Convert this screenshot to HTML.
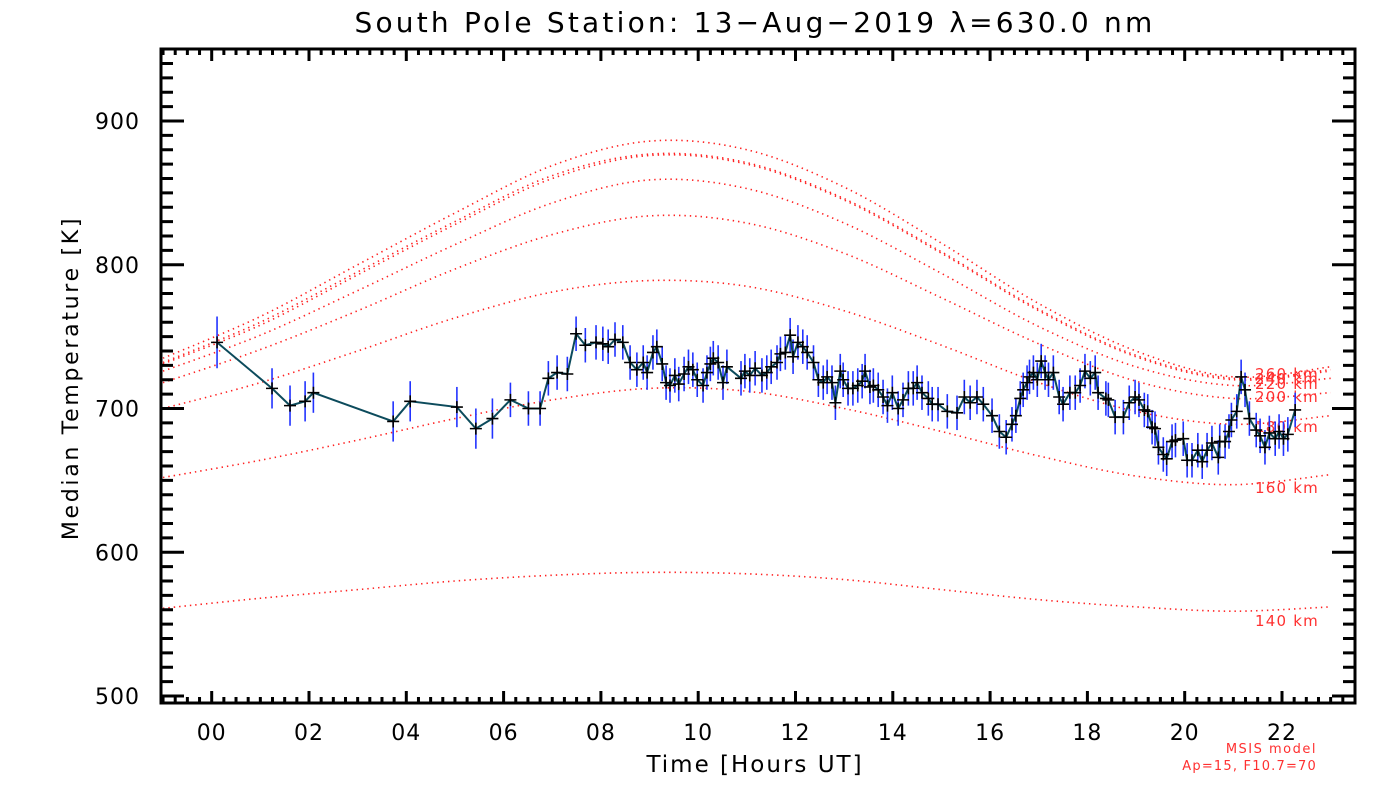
<!DOCTYPE html>
<html><head><meta charset="utf-8"><style>
html,body{margin:0;padding:0;background:#fff;}
svg{display:block;font-family:"DejaVu Sans","Liberation Sans",sans-serif;}
</style></head><body>
<svg id="chart" width="1400" height="800" viewBox="0 0 1400 800">
<text x="755" y="32" font-size="28" letter-spacing="3.2" text-anchor="middle">South Pole Station: 13−Aug−2019 λ=630.0 nm</text>
<text x="78" y="378" font-size="22" letter-spacing="2.7" text-anchor="middle" transform="rotate(-90 78 378)">Median Temperature [K]</text>
<text x="755" y="772" font-size="23" letter-spacing="2" text-anchor="middle">Time [Hours UT]</text>
<text x="1317" y="753" font-size="13" letter-spacing="1.5" fill="#ff3030" text-anchor="end">MSIS model</text>
<text x="1317" y="770" font-size="13" letter-spacing="1.2" fill="#ff3030" text-anchor="end">Ap=15, F10.7=70</text>
<g id="curves"></g><g id="data"></g><g id="axes"></g>
</svg>
<script>
const hours=[0.11,1.24,1.61,1.92,2.09,3.73,4.08,5.04,5.43,5.77,6.14,6.51,6.75,6.92,7.1,7.31,7.49,7.68,7.9,8.04,8.15,8.29,8.45,8.6,8.74,8.87,8.95,9.07,9.15,9.26,9.34,9.42,9.52,9.6,9.71,9.8,9.89,9.98,10.1,10.18,10.25,10.31,10.41,10.51,10.59,10.88,10.96,11.06,11.17,11.31,11.41,11.5,11.62,11.69,11.79,11.89,11.95,12.05,12.15,12.24,12.37,12.47,12.57,12.65,12.75,12.82,12.92,12.98,13.08,13.18,13.28,13.37,13.43,13.53,13.6,13.7,13.8,13.89,13.99,14.11,14.21,14.32,14.42,14.5,14.6,14.73,14.81,14.93,15.12,15.32,15.47,15.59,15.73,15.86,16.04,16.19,16.33,16.45,16.53,16.62,16.68,16.76,16.81,16.89,16.97,17.05,17.13,17.2,17.3,17.42,17.5,17.64,17.75,17.85,17.95,18.06,18.16,18.22,18.38,18.43,18.57,18.74,18.86,18.98,19.06,19.17,19.24,19.33,19.39,19.46,19.56,19.63,19.74,19.81,19.97,20.05,20.15,20.27,20.36,20.46,20.56,20.69,20.72,20.83,20.91,20.96,21.07,21.16,21.24,21.33,21.47,21.55,21.65,21.74,21.86,21.94,22.03,22.12,22.27];
const temps=[746,714,702,705,711,691,705,701,686,693,706,700,700,721,725,724,752,744,746,745,743,748,746,732,727,732,725,739,743,731,718,716,723,717,724,729,727,720,716,725,731,735,732,718,729,721,726,723,728,723,725,729,732,738,739,751,736,746,743,739,732,720,718,722,718,704,726,720,714,714,716,719,726,715,716,713,708,702,711,700,706,714,714,718,711,707,703,703,698,697,708,704,708,703,695,684,680,689,695,707,713,718,722,725,720,733,725,720,725,708,703,711,711,716,726,721,725,711,707,706,694,694,704,708,706,699,698,687,686,673,668,665,677,678,679,664,664,671,663,671,676,666,677,677,684,692,698,722,713,693,685,681,673,683,679,684,679,682,699];
const errs=[18,14,14,14,14,14,14,14,14,14,12,12,12,12,12,12,12,12,12,12,12,12,12,12,12,12,12,12,12,12,12,12,12,12,12,12,12,12,12,12,12,12,12,12,12,12,12,12,12,12,12,12,12,12,12,12,12,12,12,12,12,12,12,12,12,12,12,12,12,12,12,12,12,12,12,12,12,12,12,12,12,12,12,12,12,12,12,12,12,12,12,12,12,12,12,12,12,12,12,12,12,12,12,12,12,12,12,12,12,12,12,12,12,12,12,12,12,12,12,12,12,12,12,12,12,12,12,12,12,12,12,12,12,12,12,12,12,12,12,12,12,12,12,12,12,12,12,12,12,12,12,12,12,12,12,12,12,12,12];
const modelHours=[-1,1,3,5,7,9,11,13,15,17,19,21,23];
const alt140=[561,568,574,580,584,586,585,581,574,567,562,559,562];
const alt160=[652,664,678,693,706,714,712,700,684,667,653,647,654];
const alt180=[700,718,740,763,781,789,785,768,744,718,698,689,695];
const alt200=[718,741,768,797,821,834,829,808,777,745,719,707,711];
const alt220=[726,751,782,814,843,859,853,829,794,757,729,716,721];
const alt240=[731,758,793,828,860,876,870,845,808,768,736,720,726];
const alt250=[732,760,795,830,862,877,871,846,809,769,737,721,727];
const alt260=[735,764,800,836,869,886,880,854,815,773,740,722,729];
const altNames=["140 km","160 km","180 km","200 km","220 km","240 km","250 km","260 km"];
const altLabelY=[620,487,426,396,383,378,375,373];
const xTicks=["00","02","04","06","08","10","12","14","16","18","20","22"];
const yTicks=[500,600,700,800,900];

const L=161,R=1355,T=49,B=703;
const xs=h=>211.7+(h)*48.65;
const ys=v=>121+(900-v)*1.4375;
const NS="http://www.w3.org/2000/svg";
function mk(tag,parent,attrs){const e=document.createElementNS(NS,tag);for(const k in attrs)e.setAttribute(k,attrs[k]);parent.appendChild(e);return e;}

const cg=document.getElementById('curves');
[alt140,alt160,alt180,alt200,alt220,alt240,alt250,alt260].forEach((arr,i)=>{
  const p=modelHours.map((h,j)=>[xs(h),ys(arr[j])]);
  let d=`M${p[0][0]},${p[0][1]}`;
  for(let j=0;j<p.length-1;j++){
    const p0=p[Math.max(0,j-1)],p1=p[j],p2=p[j+1],p3=p[Math.min(p.length-1,j+2)];
    d+=` C${p1[0]+(p2[0]-p0[0])/6},${p1[1]+(p2[1]-p0[1])/6} ${p2[0]-(p3[0]-p1[0])/6},${p2[1]-(p3[1]-p1[1])/6} ${p2[0]},${p2[1]}`;
  }
  const c=mk('path',cg,{d:d,fill:'none',stroke:'#ff2020','stroke-width':1.6,'stroke-dasharray':'1.4 4'});
  
  
  if(altNames[i]!=="250 km"){
    const t=mk('text',cg,{x:1255,y:altLabelY[i]+6,'font-size':15,'letter-spacing':1.2,fill:'#ff3030'});
    t.textContent=altNames[i];
    
    
  }
});

const dg=document.getElementById('data');
hours.forEach((h,i)=>{
  const eb=mk('line',dg,{x1:xs(h),x2:xs(h),y1:ys(temps[i]+errs[i]),y2:ys(temps[i]-errs[i]),stroke:'#2233ff','stroke-width':1.6});
  
  
});
const line=mk('polyline',dg,{points:hours.map((h,i)=>xs(h)+','+ys(temps[i])).join(' '),fill:'none',stroke:'#0c4b5c','stroke-width':2});


hours.forEach((h,i)=>{
  const x=xs(h),y=ys(temps[i]);
  const m=mk('path',dg,{d:`M${x-6},${y}H${x+6}M${x},${y-6}V${y+6}`,stroke:'#000','stroke-width':1.6});
  
  
});

const ag=document.getElementById('axes');
const frame=mk('rect',ag,{x:L,y:T,width:R-L,height:B-T,fill:'none',stroke:'#000','stroke-width':3});


let td='';
for(let m=-60;m<=23.5*60;m+=15){const h=m/60;const x=xs(h);if(x<L+1||x>R-1)continue;const maj=(m%120===0);const len=maj?12:6;td+=`M${x},${B}V${B-len}M${x},${T}V${T+len}`;}
for(let v=500;v<=950;v+=10){const y=ys(v);if(y<T+1||y>B-1)continue;const len=(v%100===0)?23:12;td+=`M${L},${y}H${L+len}M${R},${y}H${R-len}`;}
const tk=mk('path',ag,{d:td,stroke:'#000','stroke-width':3});


xTicks.forEach((s,i)=>{const t=mk('text',ag,{x:xs(i*2),y:740,'font-size':22,'letter-spacing':1,'text-anchor':'middle'});t.textContent=s;

});
yTicks.forEach(v=>{const t=mk('text',ag,{x:140,y:ys(v)+8,'font-size':22,'letter-spacing':1,'text-anchor':'end'});t.textContent=v;

});
</script>
</body></html>
